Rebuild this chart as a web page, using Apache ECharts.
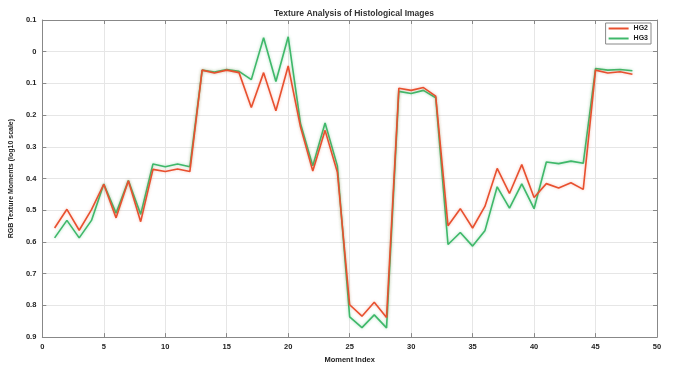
<!DOCTYPE html>
<html>
<head>
<meta charset="utf-8">
<script src="https://cdn.jsdelivr.net/npm/echarts@6/dist/echarts.min.js"></script>
<style>
  html, body { margin: 0; padding: 0; background: #ffffff; }
  #chart { width: 684px; height: 369px; }
</style>
</head>
<body>
<div id="chart"></div>
<script>
// Moment index 1..48
const momentIndex = [1,2,3,4,5,6,7,8,9,10,11,12,13,14,15,16,17,18,19,20,21,22,23,24,
                     25,26,27,28,29,30,31,32,33,34,35,36,37,38,39,40,41,42,43,44,45,46,47,48];

// log10 texture moments per group
const hg2 = [-0.556,-0.497,-0.563,-0.498,-0.418,-0.524,-0.407,-0.536,-0.371,-0.378,-0.370,-0.378,
             -0.058,-0.067,-0.058,-0.066,-0.176,-0.066,-0.186,-0.045,-0.237,-0.376,-0.248,-0.380,
             -0.798,-0.834,-0.790,-0.838,-0.115,-0.122,-0.113,-0.140,-0.549,-0.495,-0.556,-0.488,
             -0.368,-0.447,-0.356,-0.460,-0.416,-0.430,-0.413,-0.434,-0.058,-0.067,-0.063,-0.071];
const hg3 = [-0.587,-0.532,-0.587,-0.532,-0.417,-0.509,-0.406,-0.513,-0.354,-0.363,-0.354,-0.363,
             -0.058,-0.064,-0.056,-0.062,-0.088,0.044,-0.094,0.047,-0.226,-0.360,-0.225,-0.360,
             -0.836,-0.870,-0.830,-0.871,-0.125,-0.132,-0.122,-0.145,-0.608,-0.570,-0.613,-0.565,
             -0.426,-0.493,-0.417,-0.495,-0.348,-0.353,-0.345,-0.352,-0.053,-0.058,-0.056,-0.060];

const seriesNames = ['HG2', 'HG3'];
const seriesColors = ['#e8502f', '#3fb86a'];

const pairs = (ys) => momentIndex.map((x, i) => [x, ys[i]]);

const font = 'Liberation Sans';
const axisText = { color: '#222', fontSize: 7.5, fontWeight: 'bold', fontFamily: font };
const frameLine = { show: true, onZero: false, lineStyle: { color: '#888', width: 1 } };
const frameTick = { show: true, inside: true, length: 4, lineStyle: { color: '#888' } };

const chart = echarts.init(document.getElementById('chart'), null, { renderer: 'canvas' });
chart.setOption({
  backgroundColor: '#ffffff',
  animation: false,
  title: {
    text: 'Texture Analysis of Histological Images',
    left: 349, top: 4, textAlign: 'center',
    textStyle: { fontSize: 8.5, fontWeight: 'bold', color: '#333', fontFamily: font }
  },
  legend: {
    right: 33, top: 23,
    orient: 'vertical',
    itemWidth: 20, itemHeight: 2, itemGap: 3,
    icon: 'rect',
    backgroundColor: '#ffffff',
    borderColor: '#888', borderWidth: 1, borderRadius: 0,
    padding: [2, 3, 2, 3],
    textStyle: { fontSize: 7, fontWeight: 'bold', color: '#222', fontFamily: font },
    data: seriesNames
  },
  grid: { left: 42, right: 27, top: 20, bottom: 23 },
  xAxis: [{
    type: 'value', min: 0, max: 50, interval: 5,
    name: 'Moment Index', nameLocation: 'middle', nameGap: 8,
    nameTextStyle: { fontSize: 7.5, fontWeight: 'bold', color: '#222', fontFamily: font },
    axisLine: frameLine, axisTick: frameTick,
    axisLabel: Object.assign({ margin: 6 }, axisText),
    splitLine: { show: true, lineStyle: { color: '#e6e6e6', width: 1 } }
  }, {
    type: 'value', min: 0, max: 50, interval: 5, position: 'top',
    axisLine: frameLine, axisTick: frameTick,
    axisLabel: { show: false }, splitLine: { show: false }
  }],
  yAxis: [{
    type: 'value', min: -0.9, max: 0.1, interval: 0.1,
    name: 'RGB Texture Moments (log10 scale)', nameLocation: 'middle', nameGap: 21,
    nameTextStyle: { fontSize: 7, fontWeight: 'bold', color: '#222', fontFamily: font },
    axisLine: frameLine, axisTick: frameTick,
    axisLabel: Object.assign({
      margin: 6,
      formatter: (v) => {
        const a = Math.abs(Math.round(v * 10) / 10);
        return a === 0 ? '0' : a.toFixed(1);
      }
    }, axisText),
    splitLine: { show: true, lineStyle: { color: '#e6e6e6', width: 1 } }
  }, {
    type: 'value', min: -0.9, max: 0.1, interval: 0.1, position: 'right',
    axisLine: frameLine, axisTick: frameTick,
    axisLabel: { show: false }, splitLine: { show: false }
  }],
  series: seriesNames.map((name, k) => ({
    name: name,
    type: 'line',
    xAxisIndex: 0, yAxisIndex: 0,
    data: pairs(k === 0 ? hg2 : hg3),
    showSymbol: false,
    symbol: 'none',
    lineStyle: {
      color: seriesColors[k], width: 1.6,
      shadowColor: k === 0 ? 'rgba(232,80,47,0.35)' : 'rgba(63,184,106,0.45)',
      shadowBlur: 3
    },
    itemStyle: { color: seriesColors[k] },
    z: k === 0 ? 3 : 2
  }))
});
</script>
</body>
</html>
